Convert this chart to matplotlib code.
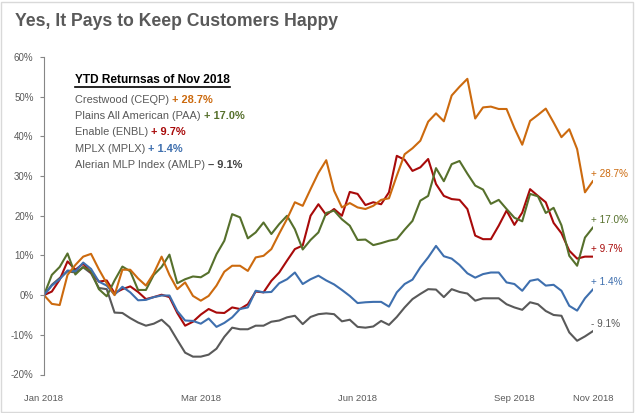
import matplotlib
matplotlib.use('Agg')
import matplotlib.pyplot as plt
import numpy as np
from matplotlib.patches import Rectangle
from matplotlib.lines import Line2D

plt.rcParams['font.family'] = ['Liberation Sans', 'DejaVu Sans']

# trading-day index (every 2nd sample), Jan 2018 -> Nov 2018
day = np.arange(71) * 2
tick_pos = [0, 40, 80, 120, 140]
tick_lbl = ['Jan 2018', 'Mar 2018', 'Jun 2018', 'Sep 2018', 'Nov 2018']

# YTD returns, %
ceqp = [0, -2.2, -2.5, 5.1, 7.6, 9.7, 10.4, 6.5, 3.0, 0.0, 6.4, 6.4, 4.2, 2.4, 5.5, 9.7, 5.1, 1.5,
        3.2, -0.2, -1.4, -0.2, 2.4, 5.9, 7.4, 7.4, 6.1, 9.5, 9.9, 11.6, 15.5, 19.2, 23.4, 22.5, 26.7,
        30.8, 34.0, 26.3, 22.1, 23.2, 22.1, 21.7, 22.5, 24.0, 24.4, 30.1, 35.5, 37.0, 38.9, 43.7, 45.8,
        43.8, 50.3, 52.5, 54.5, 44.5, 47.3, 47.5, 46.9, 46.9, 42.1, 37.9, 43.9, 45.4, 47.0, 43.5, 39.8,
        41.8, 36.8, 25.9, 28.7]
paa = [0, 5.1, 7.1, 10.5, 5.2, 7.1, 6.0, 1.5, -0.3, 3.7, 7.2, 6.0, 1.3, 1.3, 5.1, 7.1, 10.2, 3.0,
       4.0, 4.7, 4.5, 5.7, 10.3, 13.7, 20.4, 19.6, 14.3, 15.8, 18.3, 15.4, 17.9, 20.0, 16.6, 11.5, 13.9,
       15.8, 20.7, 21.3, 19.1, 17.5, 13.9, 14.0, 12.6, 13.1, 13.7, 14.1, 16.5, 18.7, 23.8, 25.0, 32.0,
       28.7, 33.0, 33.8, 30.6, 27.6, 26.6, 23.0, 24.0, 21.7, 19.5, 18.6, 25.5, 24.9, 20.7, 22.0, 17.6,
       9.9, 7.4, 14.5, 17.0]
enbl = [0, 0.9, 3.9, 8.5, 6.4, 7.9, 5.7, 3.4, 3.7, 0.5, 1.5, 2.2, 0.8, -1.0, -0.5, 0.1, -0.5, -4.5,
        -7.7, -6.7, -4.9, -3.5, -4.4, -4.5, -3.1, -3.5, -2.3, 0.9, 0.7, 3.6, 5.7, 8.7, 11.6, 12.5, 20.0,
        22.9, 20.2, 21.7, 20.0, 26.0, 25.5, 22.7, 23.4, 22.9, 25.9, 35.1, 34.1, 31.3, 32.2, 34.3, 28.0,
        25.0, 24.2, 24.0, 21.7, 15.0, 14.1, 14.1, 17.5, 21.3, 17.7, 20.8, 26.7, 25.0, 23.4, 18.2, 15.6,
        11.2, 9.2, 9.7, 9.7]
mplx = [0, 2.4, 4.0, 6.2, 6.0, 8.2, 6.6, 3.4, 2.4, 0.1, 2.1, 0.7, -1.3, -1.2, -0.5, -0.1, -0.1, -4.0,
        -6.4, -6.5, -7.2, -5.9, -8.0, -7.0, -5.6, -3.5, -3.1, 1.1, 0.7, 0.8, 3.0, 4.0, 5.7, 2.8, 4.0,
        4.9, 3.7, 2.7, 1.3, -0.2, -2.0, -1.8, -1.7, -1.7, -2.9, 0.7, 2.8, 3.9, 7.0, 9.5, 12.4,
        9.8, 9.2, 7.6, 5.5, 4.4, 5.3, 5.7, 5.7, 3.2, 2.8, 1.1, 3.6, 4.0, 2.4, 2.6, 1.1,
        -2.7, -3.9, -0.8, 1.4]
amlp = [0, 2.6, 4.3, 6.0, 5.7, 7.0, 5.5, 1.8, 1.5, -4.4, -4.5, -5.8, -6.9, -7.7, -7.2, -6.2, -8.0, -11.3,
        -14.5, -15.5, -15.5, -15.0, -13.5, -10.5, -8.2, -8.6, -8.6, -7.7, -7.7, -6.7, -6.4, -5.6, -5.2, -7.3, -5.5,
        -4.8, -4.6, -4.8, -6.6, -6.2, -8.0, -8.2, -7.9, -6.5, -7.5, -5.5, -3.1, -1.0, 0.3, 1.5, 1.4,
        -0.5, 1.5, 0.8, 0.4, -1.4, -0.8, -0.8, -0.8, -2.3, -3.1, -3.7, -1.8, -2.3, -4.0, -5.0, -5.2,
        -9.4, -11.5, -10.4, -9.1]

names = ['Crestwood (CEQP) ', 'Plains All American (PAA) ', 'Enable (ENBL) ', 'MPLX (MPLX) ',
         'Alerian MLP Index (AMLP) ']
ret_txt = ['+ 28.7%', '+ 17.0%', '+ 9.7%', '+ 1.4%', '\u2013 9.1%']
end_txt = ['+ 28.7%', '+ 17.0%', '+ 9.7%', '+ 1.4%', '- 9.1%']
colors = ['#CC6A0E', '#56702C', '#A80A0A', '#3E6FAE', '#595959']
series = [ceqp, paa, enbl, mplx, amlp]

W, H = 635, 413
fig = plt.figure(figsize=(W / 100, H / 100), dpi=100)
ax = fig.add_axes([44 / W, (H - 374.5) / H, 548.8 / W, (374.5 - 57) / H])

for i in [4, 2, 1, 3, 0]:
    ax.plot(day, series[i], color=colors[i], lw=1.5, solid_joinstyle='round')
    ax.annotate(end_txt[i], xy=(day[-1], series[i][-1]), xytext=(-1, 5.5), textcoords='offset points',
                ha='left', va='center', color=colors[i], fontsize=7.2, annotation_clip=False)

ax.set_xlim(0, 140)
ax.set_ylim(-20, 60)
ax.set_yticks(range(-20, 61, 10))
ax.set_yticklabels([f'{v}%' for v in range(-20, 61, 10)])
ax.set_xticks(tick_pos)
ax.set_xticklabels(tick_lbl)
for s in ['top', 'right', 'bottom']:
    ax.spines[s].set_visible(False)
ax.spines['left'].set_color('#868686')
ax.tick_params(axis='y', colors='#868686', length=3, width=0.8, pad=4.5, labelsize=7, labelcolor='#595959')
ax.tick_params(axis='x', length=0, pad=14, labelsize=6.8, labelcolor='#595959')

fig.text(15 / W, 1 - 22 / H, 'Yes, It Pays to Keep Customers Happy', fontsize=12.7, fontweight='bold',
         color='#595959', va='center')

# legend box text
r = fig.canvas.get_renderer()
t = fig.text(75 / W, 1 - 80 / H, 'YTD Returnsas of Nov 2018', fontsize=8.6, fontweight='bold',
             color='black', va='center')
bb = t.get_window_extent(r)
fig.add_artist(Line2D([bb.x0 / W, bb.x1 / W], [(bb.y0 - 1) / H, (bb.y0 - 1) / H], color='black', lw=1.2))

rows_y = [100, 116, 132, 149, 165]
for i in range(5):
    t1 = fig.text(75 / W, 1 - rows_y[i] / H, names[i], fontsize=7.9, color='#595959', va='center')
    b1 = t1.get_window_extent(r)
    c = colors[i] if i < 4 else '#404040'
    fig.text(b1.x1 / W, 1 - rows_y[i] / H, ret_txt[i], fontsize=7.9, fontweight='bold', color=c, va='center')

fig.add_artist(Rectangle((1 / W, 1 / H), (W - 3) / W, (H - 3) / H, fill=False, edgecolor='#D9D9D9',
                         lw=1, transform=fig.transFigure))

fig.savefig('out.png', dpi=100)
